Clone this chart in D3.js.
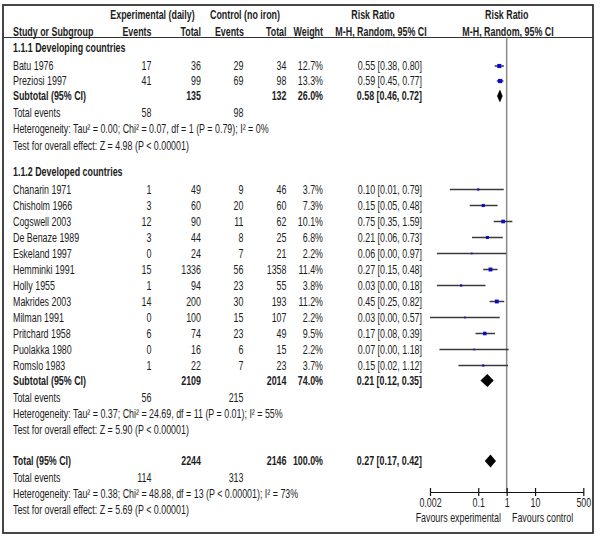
<!DOCTYPE html>
<html>
<head>
<meta charset="utf-8">
<script src="https://cdn.jsdelivr.net/npm/d3@7"></script>
<style>
  html, body { margin: 0; padding: 0; background: #fff; }
  svg text { fill: #1c1c1c; }
</style>
</head>
<body>
<svg id="chart" width="600" height="539"></svg>
<script>
// ---------------- DATA ----------------
const groupTitles = ["1.1.1 Developing countries", "1.1.2 Developed countries"];

const studies1 = ["Batu 1976", "Preziosi 1997"];
const expEvents1 = [17, 41];
const expTotal1 = [36, 99];
const ctlEvents1 = [29, 69];
const ctlTotal1 = [34, 98];
const weight1 = [12.7, 13.3];
const rrLabel1 = ["0.55 [0.38, 0.80]", "0.59 [0.45, 0.77]"];
const rr1 = [0.55, 0.59];
const lo1 = [0.38, 0.45];
const hi1 = [0.80, 0.77];

const studies2 = ["Chanarin 1971", "Chisholm 1966", "Cogswell 2003", "De Benaze 1989", "Eskeland 1997",
  "Hemminki 1991", "Holly 1955", "Makrides 2003", "Milman 1991", "Pritchard 1958", "Puolakka 1980", "Romslo 1983"];
const expEvents2 = [1, 3, 12, 3, 0, 15, 1, 14, 0, 6, 0, 1];
const expTotal2 = [49, 60, 90, 44, 24, 1336, 94, 200, 100, 74, 16, 22];
const ctlEvents2 = [9, 20, 11, 8, 7, 56, 23, 30, 15, 23, 6, 7];
const ctlTotal2 = [46, 60, 62, 25, 21, 1358, 55, 193, 107, 49, 15, 23];
const weight2 = [3.7, 7.3, 10.1, 6.8, 2.2, 11.4, 3.8, 11.2, 2.2, 9.5, 2.2, 3.7];
const rrLabel2 = ["0.10 [0.01, 0.79]", "0.15 [0.05, 0.48]", "0.75 [0.35, 1.59]", "0.21 [0.06, 0.73]",
  "0.06 [0.00, 0.97]", "0.27 [0.15, 0.48]", "0.03 [0.00, 0.18]", "0.45 [0.25, 0.82]",
  "0.03 [0.00, 0.57]", "0.17 [0.08, 0.39]", "0.07 [0.00, 1.18]", "0.15 [0.02, 1.12]"];
// plotted values (lower bounds shown as 0.00)
const rr2 = [0.10, 0.15, 0.75, 0.21, 0.059, 0.27, 0.025, 0.45, 0.034, 0.17, 0.072, 0.15];
const lo2 = [0.01, 0.05, 0.35, 0.06, 0.0035, 0.15, 0.0035, 0.25, 0.002, 0.08, 0.0043, 0.02];
const hi2 = [0.79, 0.48, 1.59, 0.73, 0.97, 0.48, 0.18, 0.82, 0.57, 0.39, 1.18, 1.12];

const subExpTotal = [135, 2109];
const subCtlTotal = [132, 2014];
const subWeight = ["26.0%", "74.0%"];
const subLabel = ["0.58 [0.46, 0.72]", "0.21 [0.12, 0.35]"];
const subRR = [0.58, 0.21];
const subLo = [0.46, 0.12];
const subHi = [0.72, 0.35];
const subExpEvents = [58, 56];
const subCtlEvents = [98, 215];
const subHet = [
  "Heterogeneity: Tau² = 0.00; Chi² = 0.07, df = 1 (P = 0.79); I² = 0%",
  "Heterogeneity: Tau² = 0.37; Chi² = 24.69, df = 11 (P = 0.01); I² = 55%"];
const subTest = ["Test for overall effect: Z = 4.98 (P < 0.00001)", "Test for overall effect: Z = 5.90 (P < 0.00001)"];

const totExpTotal = 2244, totCtlTotal = 2146, totWeight = "100.0%";
const totLabel = "0.27 [0.17, 0.42]";
const totRR = 0.27, totLo = 0.17, totHi = 0.42;
const totExpEvents = 114, totCtlEvents = 313;
const totHet = "Heterogeneity: Tau² = 0.38; Chi² = 48.88, df = 13 (P < 0.00001); I² = 73%";
const totTest = "Test for overall effect: Z = 5.69 (P < 0.00001)";

const axisTicks = [0.002, 0.1, 1, 10, 500];
const favLeft = "Favours experimental", favRight = "Favours control";

// ---------------- LAYOUT ----------------
const svg = d3.select("#chart");
const FS = "12.5px";

let family = '"Liberation Sans Narrow", "Liberation Sans", Arial, sans-serif';
const probe = svg.append("text").style("font-family", family).style("font-size", FS).text(subHet[0]);
let wNarrow = probe.node().getComputedTextLength();
probe.remove();
const targetW = 256;
let sx = targetW / wNarrow;
svg.style("font-family", family).style("font-size", FS);

function txt(x, y, s, anchor, bold) {
  svg.append("text")
    .attr("transform", `translate(${x},${y}) scale(${sx},1)`)
    .attr("text-anchor", anchor || "start")
    .attr("dy", "0.35em")
    .style("font-weight", bold ? "bold" : "normal")
    .text(s);
}

const col = { label: 13, expE: 151.5, expT: 201, ctlE: 243.5, ctlT: 286.5, wt: 323, rr: 422 };

const x = d3.scaleLog().domain([0.002, 500]).range([430, 583.3]);
const axisY = 492;

svg.append("rect").attr("x", 3).attr("y", 5).attr("width", 590).attr("height", 528)
  .attr("fill", "none").attr("stroke", "#333").attr("stroke-width", 1.8);
svg.append("line").attr("x1", 3).attr("x2", 593).attr("y1", 37.5).attr("y2", 37.5)
  .attr("stroke", "#333").attr("stroke-width", 1);
svg.append("line").attr("x1", x(1)).attr("x2", x(1)).attr("y1", 37.5).attr("y2", axisY)
  .attr("stroke", "#8a8a8a").attr("stroke-width", 1.5);

txt(152.5, 15, "Experimental (daily)", "middle", true);
txt(245, 15, "Control (no iron)", "middle", true);
txt(373, 15, "Risk Ratio", "middle", true);
txt(506.7, 15, "Risk Ratio", "middle", true);
txt(col.label, 32, "Study or Subgroup", "start", true);
txt(col.expE, 32, "Events", "end", true);
txt(col.expT, 32, "Total", "end", true);
txt(col.ctlE + 0.5, 32, "Events", "end", true);
txt(col.ctlT, 32, "Total", "end", true);
txt(col.wt, 32, "Weight", "end", true);
txt(381, 32, "M-H, Random, 95% CI", "middle", true);
txt(508, 32, "M-H, Random, 95% CI", "middle", true);

function square(y, w, rr, lo, hi) {
  svg.append("line").attr("x1", x(lo)).attr("x2", x(hi)).attr("y1", y).attr("y2", y)
    .attr("stroke", "#3a3a3a").attr("stroke-width", 1.5);
  const s = 1.15 * Math.sqrt(w);
  svg.append("rect").attr("x", x(rr) - s / 2).attr("y", y - s / 2).attr("width", s).attr("height", s)
    .attr("fill", "#0a0ad0");
}
function diamond(y, rr, lo, hi) {
  const h = 6.5;
  svg.append("path")
    .attr("d", `M${x(lo)},${y}L${x(rr)},${y - h}L${x(hi)},${y}L${x(rr)},${y + h}Z`)
    .attr("fill", "#000");
}

const groups = [
  { studies: studies1, eE: expEvents1, eT: expTotal1, cE: ctlEvents1, cT: ctlTotal1, w: weight1, lab: rrLabel1, rr: rr1, lo: lo1, hi: hi1 },
  { studies: studies2, eE: expEvents2, eT: expTotal2, cE: ctlEvents2, cT: ctlTotal2, w: weight2, lab: rrLabel2, rr: rr2, lo: lo2, hi: hi2 }
];

let y = 48;
groups.forEach((g, gi) => {
  txt(col.label, y, groupTitles[gi], "start", true);
  y += 18;
  g.studies.forEach((name, i) => {
    if (i > 0) y += (gi === 0 ? 15 : 16);
    txt(col.label, y, name, "start");
    txt(col.expE, y, g.eE[i], "end");
    txt(col.expT, y, g.eT[i], "end");
    txt(col.ctlE, y, g.cE[i], "end");
    txt(col.ctlT, y, g.cT[i], "end");
    txt(col.wt, y, g.w[i].toFixed(1) + "%", "end");
    txt(col.rr, y, g.lab[i], "end");
    square(y, g.w[i], g.rr[i], g.lo[i], g.hi[i]);
  });
  y += 15;
  txt(col.label, y, "Subtotal (95% CI)", "start", true);
  txt(col.expT, y, subExpTotal[gi], "end", true);
  txt(col.ctlT, y, subCtlTotal[gi], "end", true);
  txt(col.wt, y, subWeight[gi], "end", true);
  txt(col.rr, y, subLabel[gi], "end", true);
  diamond(y, subRR[gi], subLo[gi], subHi[gi]);
  y += 17;
  txt(col.label, y, "Total events", "start");
  txt(col.expE, y, subExpEvents[gi], "end");
  txt(col.ctlE, y, subCtlEvents[gi], "end");
  y += 16;
  txt(col.label, y, subHet[gi], "start");
  y += 16.5;
  txt(col.label, y, subTest[gi], "start");
  y += (gi === 0 ? 26 : 31);
});

txt(col.label, y, "Total (95% CI)", "start", true);
txt(col.expT, y, totExpTotal, "end", true);
txt(col.ctlT, y, totCtlTotal, "end", true);
txt(col.wt, y, totWeight, "end", true);
txt(col.rr, y, totLabel, "end", true);
diamond(y, totRR, totLo, totHi);
y += 17;
txt(col.label, y, "Total events", "start");
txt(col.expE, y, totExpEvents, "end");
txt(col.ctlE, y, totCtlEvents, "end");
y += 16;
txt(col.label, y, totHet, "start");
y += 16;
txt(col.label, y, totTest, "start");

const ax = svg.append("g").attr("transform", `translate(0,${axisY})`)
  .call(d3.axisBottom(x).tickValues(axisTicks).tickSizeInner(4).tickSizeOuter(0).tickFormat(d => String(d)));
ax.select(".domain").attr("stroke", "#111").attr("stroke-width", 1.2);
ax.selectAll(".tick line").attr("y1", -4).attr("y2", 4).attr("stroke", "#111").attr("stroke-width", 1.2);
ax.selectAll(".tick text").attr("y", 11).attr("dy", "0.35em")
  .attr("transform", `scale(${sx},1)`)
  .style("font-size", FS).style("font-family", family).attr("fill", "#1c1c1c");

txt(501, 518, favLeft, "end");
txt(512, 518, favRight, "start");
</script>
</body>
</html>
